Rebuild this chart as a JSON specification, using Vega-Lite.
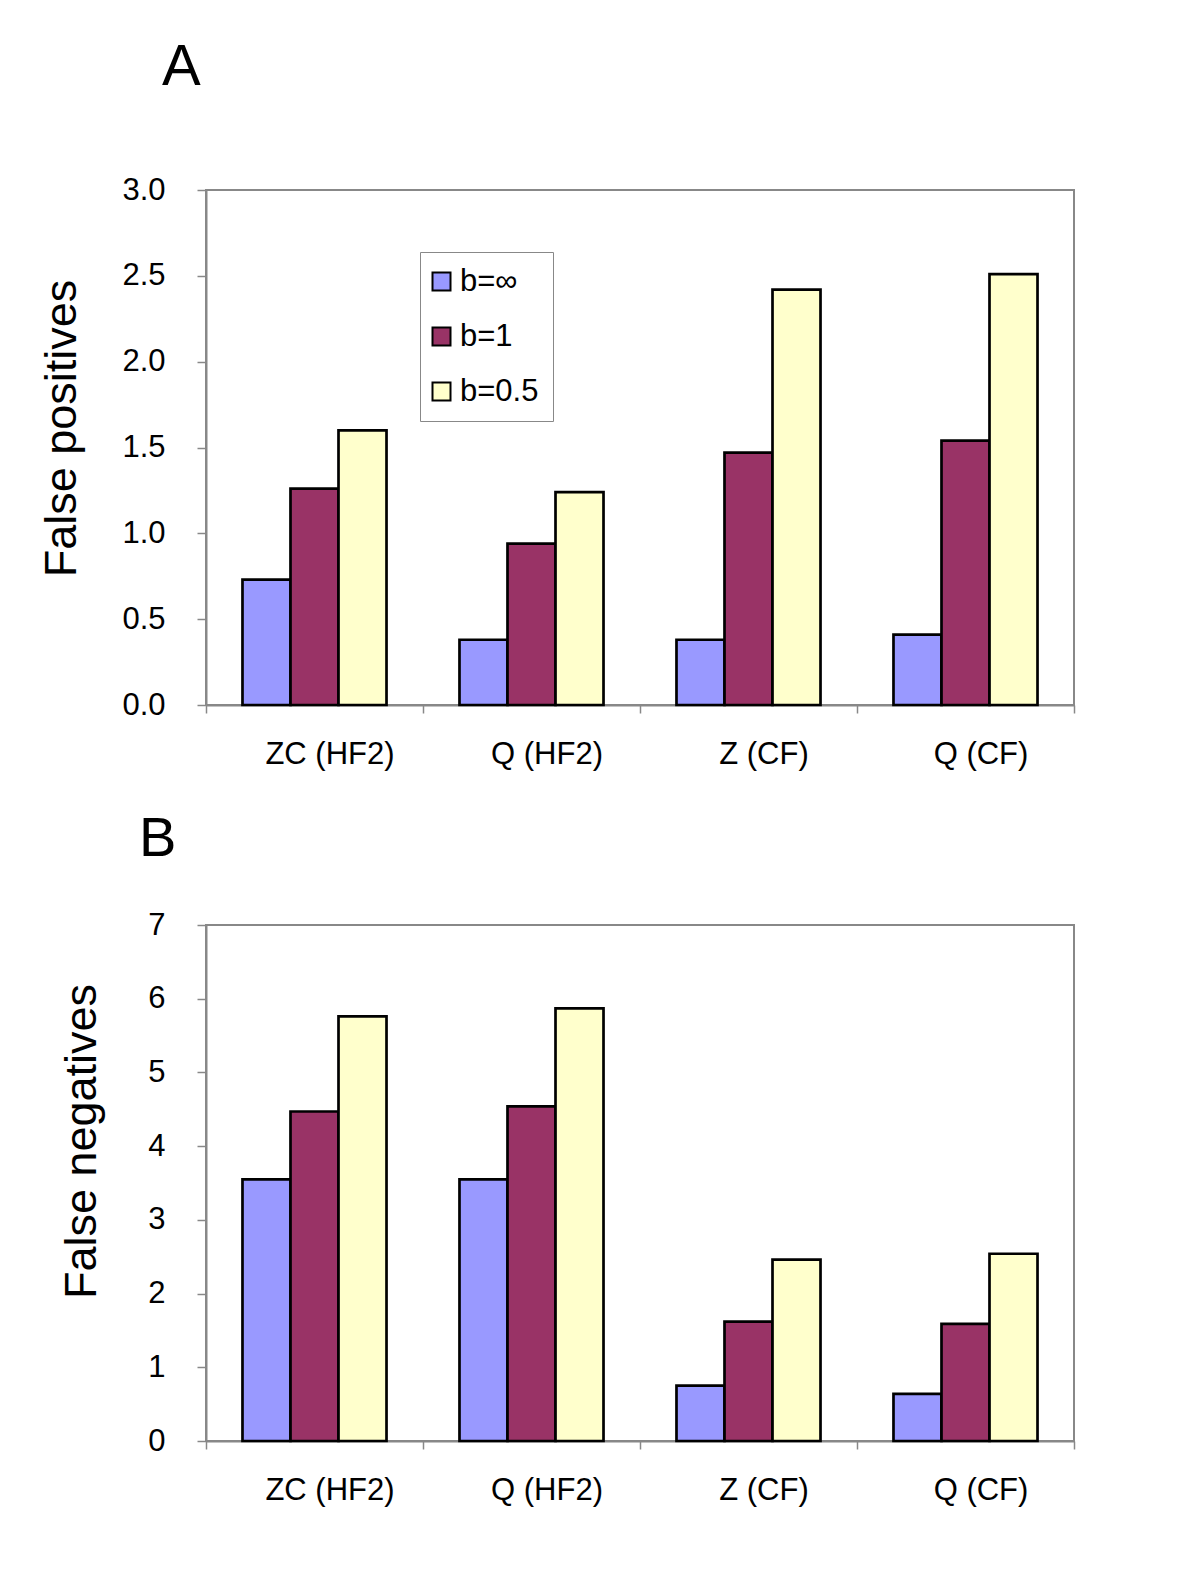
{
  "$schema": "https://vega.github.io/schema/vega-lite/v6.json",
  "background": "white",
  "padding": {"left": 38, "top": 38, "right": 10, "bottom": 10},
  "config": {
    "font": "Liberation Sans",
    "view": {"stroke": "#888888", "strokeWidth": 2},
    "axis": {"domainColor": "#888888", "domainWidth": 2, "tickColor": "#888888", "tickWidth": 1.5, "labelColor": "black", "titleColor": "black", "grid": false, "labelFont": "Liberation Sans", "titleFont": "Liberation Sans", "titleFontWeight": "normal"},
    "legend": {"labelFont": "Liberation Sans"}
  },
  "datasets": {
    "fp": [
      {"method": "ZC (HF2)", "b": "b=∞", "value": 0.73},
      {"method": "ZC (HF2)", "b": "b=1", "value": 1.26},
      {"method": "ZC (HF2)", "b": "b=0.5", "value": 1.60},
      {"method": "Q (HF2)", "b": "b=∞", "value": 0.38},
      {"method": "Q (HF2)", "b": "b=1", "value": 0.94},
      {"method": "Q (HF2)", "b": "b=0.5", "value": 1.24},
      {"method": "Z (CF)", "b": "b=∞", "value": 0.38},
      {"method": "Z (CF)", "b": "b=1", "value": 1.47},
      {"method": "Z (CF)", "b": "b=0.5", "value": 2.42},
      {"method": "Q (CF)", "b": "b=∞", "value": 0.41},
      {"method": "Q (CF)", "b": "b=1", "value": 1.54},
      {"method": "Q (CF)", "b": "b=0.5", "value": 2.51}
    ],
    "fn": [
      {"method": "ZC (HF2)", "b": "b=∞", "value": 3.55},
      {"method": "ZC (HF2)", "b": "b=1", "value": 4.47},
      {"method": "ZC (HF2)", "b": "b=0.5", "value": 5.76},
      {"method": "Q (HF2)", "b": "b=∞", "value": 3.55},
      {"method": "Q (HF2)", "b": "b=1", "value": 4.54},
      {"method": "Q (HF2)", "b": "b=0.5", "value": 5.87},
      {"method": "Z (CF)", "b": "b=∞", "value": 0.75},
      {"method": "Z (CF)", "b": "b=1", "value": 1.62},
      {"method": "Z (CF)", "b": "b=0.5", "value": 2.46},
      {"method": "Q (CF)", "b": "b=∞", "value": 0.64},
      {"method": "Q (CF)", "b": "b=1", "value": 1.59},
      {"method": "Q (CF)", "b": "b=0.5", "value": 2.54}
    ]
  },
  "spacing": 40,
  "resolve": {"scale": {"color": "independent"}, "legend": {"color": "independent"}},
  "vconcat": [
    {
      "width": 868,
      "height": 515,
      "data": {"name": "fp"},
      "title": {"text": "A", "fontSize": 58, "fontWeight": "normal", "anchor": "start", "frame": "group", "dx": -44, "offset": 31, "baseline": "alphabetic", "color": "black"},
      "mark": {"type": "bar", "stroke": "black", "strokeWidth": 2.7},
      "encoding": {
        "x": {"field": "method", "type": "nominal", "sort": ["ZC (HF2)", "Q (HF2)", "Z (CF)", "Q (CF)"],
              "scale": {"paddingInner": 0, "paddingOuter": 0},
              "axis": {"title": null, "labelAngle": 0, "labelFontSize": 31, "tickSize": 8, "labelPadding": 26, "tickBand": "extent", "labelOffset": 15}},
        "xOffset": {"field": "b", "type": "nominal", "sort": ["b=∞", "b=1", "b=0.5"], "scale": {"paddingInner": 0, "paddingOuter": 0.76}},
        "y": {"field": "value", "type": "quantitative", "scale": {"domain": [0, 3], "nice": false},
              "axis": {"title": "False positives", "values": [0, 0.5, 1, 1.5, 2, 2.5, 3], "format": ".1f", "labelFontSize": 31, "tickSize": 9, "labelPadding": 32, "titleFontSize": 45, "titleX": -145, "titleY": 238, "titleBaseline": "middle", "titleAngle": 270}},
        "color": {"field": "b", "type": "nominal", "sort": ["b=∞", "b=1", "b=0.5"],
                  "scale": {"domain": ["b=∞", "b=1", "b=0.5"], "range": ["#9999FF", "#993366", "#FFFFCC"]},
                  "legend": {"title": null, "orient": "none", "legendX": 214, "legendY": 62, "strokeColor": "#888888", "fillColor": "white", "padding": 14, "symbolType": "square", "symbolSize": 324, "symbolStrokeColor": "black", "symbolStrokeWidth": 2, "symbolOpacity": 1, "symbolOffset": -8, "labelFontSize": 31, "labelOffset": 3, "rowPadding": 23, "labelColor": "black", "labelExpr": "datum.label + '      '"}}
      }
    },
    {
      "width": 868,
      "height": 516,
      "data": {"name": "fn"},
      "title": {"text": "B", "fontSize": 56, "fontWeight": "normal", "anchor": "start", "frame": "group", "dx": -67, "offset": -3, "baseline": "alphabetic", "color": "black"},
      "mark": {"type": "bar", "stroke": "black", "strokeWidth": 2.7},
      "encoding": {
        "x": {"field": "method", "type": "nominal", "sort": ["ZC (HF2)", "Q (HF2)", "Z (CF)", "Q (CF)"],
              "scale": {"paddingInner": 0, "paddingOuter": 0},
              "axis": {"title": null, "labelAngle": 0, "labelFontSize": 31, "tickSize": 8, "labelPadding": 26, "tickBand": "extent", "labelOffset": 15}},
        "xOffset": {"field": "b", "type": "nominal", "sort": ["b=∞", "b=1", "b=0.5"], "scale": {"paddingInner": 0, "paddingOuter": 0.76}},
        "y": {"field": "value", "type": "quantitative", "scale": {"domain": [0, 7], "nice": false},
              "axis": {"title": "False negatives", "values": [0, 1, 2, 3, 4, 5, 6, 7], "format": "d", "labelFontSize": 31, "tickSize": 9, "labelPadding": 32, "titleFontSize": 45, "titleX": -125, "titleY": 216, "titleBaseline": "middle", "titleAngle": 270}},
        "color": {"field": "b", "type": "nominal", "sort": ["b=∞", "b=1", "b=0.5"],
                  "scale": {"domain": ["b=∞", "b=1", "b=0.5"], "range": ["#9999FF", "#993366", "#FFFFCC"]},
                  "legend": null}
      }
    }
  ]
}
